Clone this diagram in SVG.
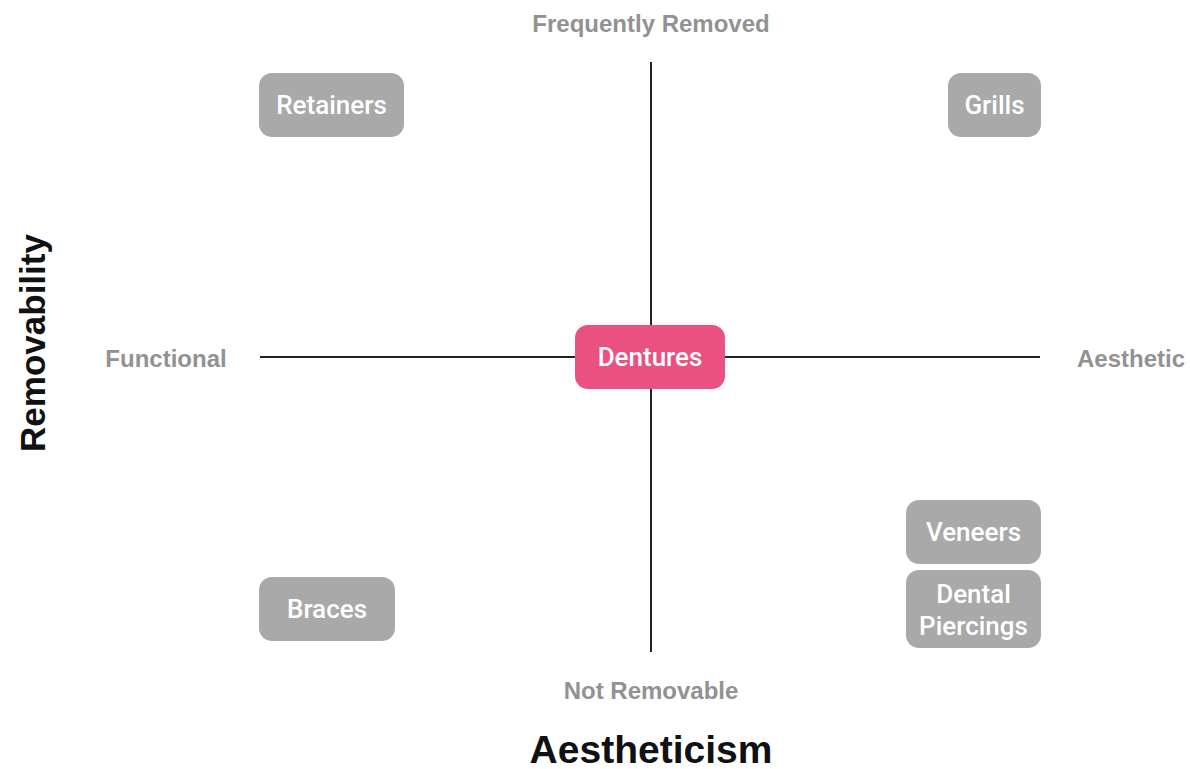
<svg xmlns="http://www.w3.org/2000/svg" width="1190" height="769" viewBox="0 0 1190 769">
<style>
.box{fill:#a9a9a9}
.hot{fill:#ea5080}
.bt{font-family:Roboto,"Noto Sans",sans-serif;font-weight:500;font-size:26px;fill:#ffffff;text-anchor:middle}
.ax{font-family:"Liberation Sans",Arial,sans-serif;font-weight:bold;font-size:24px;fill:#929292;text-anchor:middle}
.ti{font-family:"Liberation Sans",Arial,sans-serif;font-weight:bold;font-size:39px;fill:#111111;text-anchor:middle}
.ln{stroke:#222;stroke-width:2;fill:none}
</style>
<rect width="1190" height="769" fill="#ffffff"/>
<g id="connectors">
<line class="ln" x1="651" y1="62" x2="651" y2="652"/>
<line class="ln" x1="260" y1="357" x2="1040" y2="357"/>
</g>
<g id="labels">
<text class="ax" x="651" y="32">Frequently Removed</text>
<text class="ax" x="651" y="699">Not Removable</text>
<text class="ax" x="166" y="367">Functional</text>
<text class="ax" x="1131" y="367">Aesthetic</text>
<text class="ti" x="651" y="763">Aestheticism</text>
<text class="ti" style="font-size:35px" transform="translate(45,343) rotate(-90)">Removability</text>
</g>
<g id="retainers"><rect class="box" x="259" y="73" width="145" height="64" rx="13"/><text class="bt" x="331.5" y="114">Retainers</text></g>
<g id="grills"><rect class="box" x="948" y="73" width="93" height="64" rx="13"/><text class="bt" x="994.5" y="114">Grills</text></g>
<g id="dentures"><rect class="hot" x="575" y="325" width="150" height="64" rx="13"/><text class="bt" x="650" y="366">Dentures</text></g>
<g id="braces"><rect class="box" x="259" y="577" width="136" height="64" rx="13"/><text class="bt" x="327" y="618">Braces</text></g>
<g id="veneers"><rect class="box" x="906" y="500" width="135" height="64" rx="13"/><text class="bt" x="973.5" y="541">Veneers</text></g>
<g id="piercings"><rect class="box" x="906" y="570" width="135" height="78" rx="13"/><text class="bt" x="973.5" y="603">Dental</text><text class="bt" x="973.5" y="635">Piercings</text></g>
</svg>
